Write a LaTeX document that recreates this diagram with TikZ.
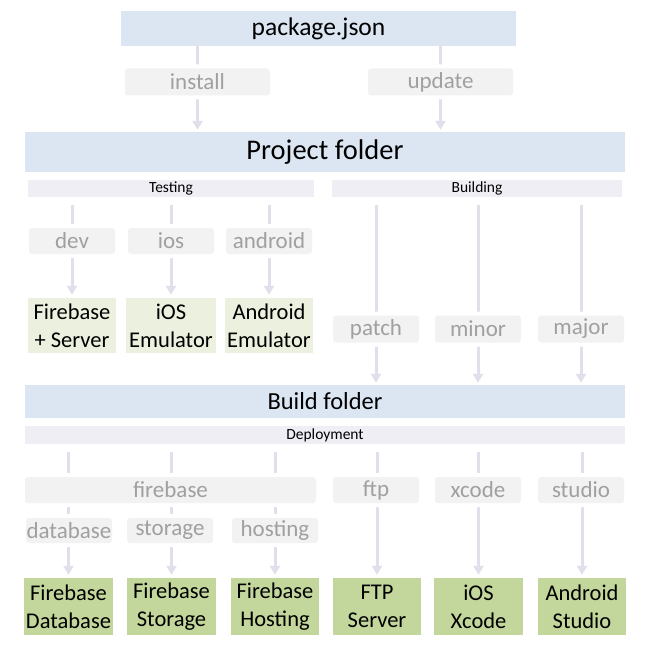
\documentclass[tikz,border=0pt]{standalone}
\usepackage{fontspec}
\setmainfont{Carlito}
\usepackage{tikz}
\usetikzlibrary{arrows.meta,positioning,backgrounds,calc}

\definecolor{hdrblue}{HTML}{DCE6F2}
\definecolor{secgray}{HTML}{F0EEF5}
\definecolor{lblfill}{HTML}{F2F2F2}
\definecolor{lbltext}{HTML}{A0A0A0}
\definecolor{flowcol}{HTML}{E2DEEC}
\definecolor{tgtlight}{HTML}{EBF1DE}
\definecolor{tgtdark}{HTML}{C3D69B}

\begin{document}
\begin{tikzpicture}[x=1pt,y=-1pt,
    every node/.style={inner sep=0pt},
    folder/.style={fill=hdrblue, minimum width=600pt},
    section/.style={fill=secgray, minimum height=17pt, font=\fontsize{15.5}{18}\selectfont},
    cmd/.style={fill=lblfill, rounded corners=3pt, text=lbltext, minimum height=27pt,
                minimum width=86pt, font=\fontsize{23}{26}\selectfont,
                preaction={draw=white, line width=8pt}},
    emu/.style={fill=tgtlight, align=center, minimum height=55pt, font=\fontsize{22.5}{28}\selectfont},
    deploy/.style={fill=tgtdark, align=center, minimum height=57pt, minimum width=88pt,
                   font=\fontsize{22.5}{28}\selectfont},
    flow/.style={draw=flowcol, line width=3pt, -{Triangle[width=10pt,length=9pt]}}
  ]
  \useasboundingbox (0,0) rectangle (650,650);

  %sources
  \node [fill=hdrblue, minimum width=395pt, minimum height=35pt, font=\fontsize{25.5}{30}\selectfont]
    (pkg) at (318.5,28.5) {package.json};
  \node [folder, minimum height=40pt, font=\fontsize{28.5}{33}\selectfont] (proj) at (325,152) {Project folder};
  \node [cmd, minimum width=145pt] (install) at (197.5,82) {install};
  \node [cmd, minimum width=145pt] (update) at (440.5,82) {update};

  %testing
  \node [section, minimum width=286pt] (testing) at (171,188.5) {Testing};
  \node [emu, minimum width=88pt] (fbsrv) at (72,325.5) {Firebase\\+ Server};
  \node [emu, minimum width=90pt] (iosemu) at (171,325.5) {iOS\\Emulator};
  \node [emu, minimum width=88pt] (andemu) at (269,325.5) {Android\\Emulator};
  \node [cmd, minimum height=26pt] (dev) at (72,241) {dev};
  \node [cmd, minimum height=26pt] (ios) at (171,241) {ios};
  \node [cmd, minimum height=26pt] (android) at (269,241) {android};

  %building
  \node [section, minimum width=290pt] (building) at (477,188.5) {Building};
  \node [folder, minimum height=33pt, font=\fontsize{24.5}{29}\selectfont] (build) at (325,401.5) {Build folder};
  \node [cmd] (patch) at (376,329) {patch};
  \node [cmd] (minor) at (478,329) {minor};
  \node [cmd] (major) at (581,329) {major};

  %deployment
  \node [section, minimum width=600pt, minimum height=18pt] (deployment) at (325,435) {Deployment};
  \node [deploy, minimum width=89pt] (fbdb) at (68.5,606.5) {Firebase\\Database};
  \node [deploy, minimum width=89pt] (fbst) at (171.5,606.5) {Firebase\\Storage};
  \node [deploy] (fbhost) at (275,606.5) {Firebase\\Hosting};
  \node [deploy] (ftpsrv) at (377,606.5) {FTP\\Server};
  \node [deploy, minimum width=89pt] (iosxc) at (478.5,606.5) {iOS\\Xcode};
  \node [deploy] (andst) at (582,606.5) {Android\\Studio};
  \node [cmd, minimum width=291pt, minimum height=26pt] (firebase) at (170.5,490) {firebase};
  \node [cmd, minimum height=26pt] (ftp) at (376,490) {ftp};
  \node [cmd, minimum height=26pt] (xcode) at (478,490) {xcode};
  \node [cmd, minimum height=26pt] (studio) at (581,490) {studio};
  \node [cmd, minimum height=25pt] (database) at (69,530.5) {database};
  \node [cmd, minimum height=25pt] (storage) at (170,530.5) {storage};
  \node [cmd, minimum height=25pt] (hosting) at (275,530.5) {hosting};

  %arrows
  \begin{scope}[on background layer]
    \draw [flow, shorten >=2pt] (pkg.south -| install) -- (proj.north -| install);
    \draw [flow, shorten >=2pt] (pkg.south -| update) -- (proj.north -| update);
    \foreach \t in {fbsrv,iosemu,andemu}
      \draw [flow, shorten <=8pt, shorten >=3pt] (testing.south -| \t) -- (\t.north);
    \foreach \c in {patch,minor,major}
      \draw [flow, shorten <=8pt, shorten >=2pt] (building.south -| \c) -- (build.north -| \c);
    \foreach \t in {fbdb,fbst,fbhost,ftpsrv,iosxc,andst}
      \draw [flow, shorten <=8pt, shorten >=3pt] (deployment.south -| \t) -- (\t.north);
  \end{scope}
\end{tikzpicture}
\end{document}
